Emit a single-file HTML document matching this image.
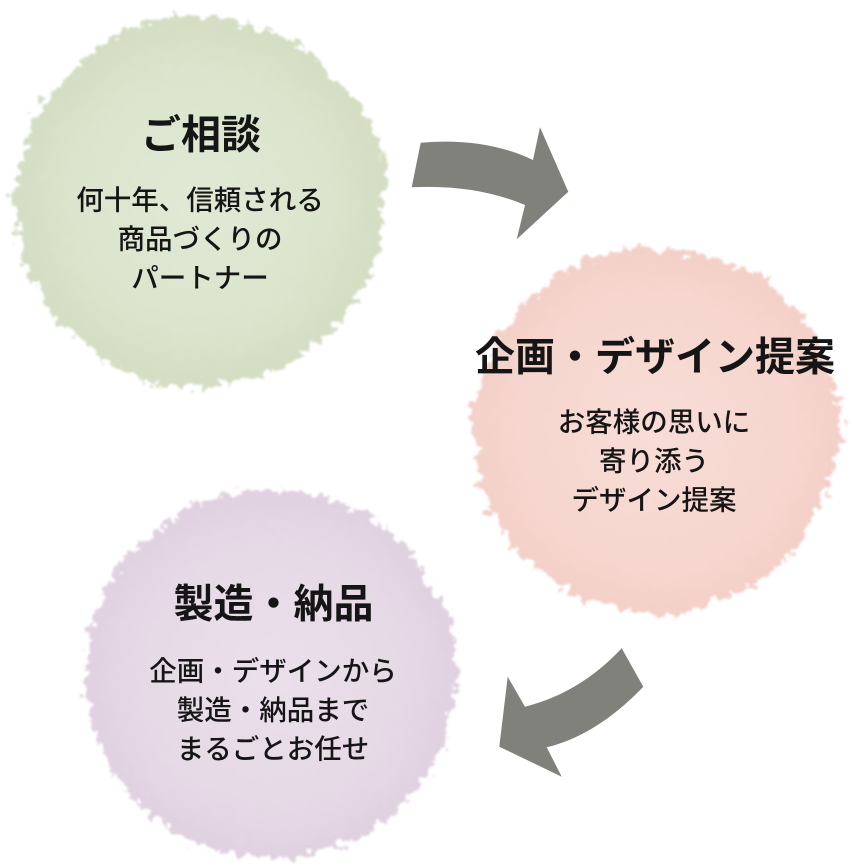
<!DOCTYPE html>
<html>
<head>
<meta charset="utf-8">
<style>
  html, body { margin: 0; padding: 0; background: #ffffff; }
  body { width: 854px; height: 868px; overflow: hidden; }
  svg { display: block; }
  .t { font-family: "Liberation Sans", "Noto Sans CJK JP", sans-serif; fill: #151515; text-anchor: middle; }
  .h { font-size: 40px; font-weight: 700; }
  .b { font-size: 27.5px; font-weight: 500; }
</style>
</head>
<body>
<svg width="854" height="868" viewBox="0 0 854 868" xmlns="http://www.w3.org/2000/svg">
  <defs>
    <filter id="fz" x="-15%" y="-15%" width="130%" height="130%">
      <feTurbulence type="fractalNoise" baseFrequency="0.02" numOctaves="2" seed="5" result="n1"/>
      <feDisplacementMap in="SourceGraphic" in2="n1" scale="14" xChannelSelector="R" yChannelSelector="G" result="d1"/>
      <feTurbulence type="fractalNoise" baseFrequency="0.11" numOctaves="3" seed="3" result="n2"/>
      <feDisplacementMap in="d1" in2="n2" scale="22" xChannelSelector="R" yChannelSelector="G" result="d2"/>
      <feGaussianBlur in="d2" stdDeviation="1"/>
    </filter>
    <radialGradient id="gG" cx="50%" cy="50%" r="50%">
      <stop offset="0%" stop-color="#e1e9d5"/>
      <stop offset="70%" stop-color="#dbe4cc"/>
      <stop offset="100%" stop-color="#d4dec3"/>
    </radialGradient>
    <radialGradient id="gP" cx="50%" cy="50%" r="50%">
      <stop offset="0%" stop-color="#f8dcd6"/>
      <stop offset="70%" stop-color="#f6d7cf"/>
      <stop offset="100%" stop-color="#f3d0c8"/>
    </radialGradient>
    <radialGradient id="gV" cx="50%" cy="50%" r="50%">
      <stop offset="0%" stop-color="#ebe0eb"/>
      <stop offset="70%" stop-color="#e6d9e6"/>
      <stop offset="100%" stop-color="#e0d1e0"/>
    </radialGradient>
  </defs>

  <!-- blobs -->
  <circle cx="200" cy="201" r="185" fill="url(#gG)" filter="url(#fz)"/>
  <circle cx="656" cy="431" r="183" fill="url(#gP)" filter="url(#fz)"/>
  <circle cx="271" cy="675" r="185" fill="url(#gV)" filter="url(#fz)"/>

  <!-- arrow 1 -->
  <path d="M420.7,142.7 Q485,137 533,160 L540,127.3 L568.3,191.7 L516.7,239.3 L525,205 Q475,184 411.7,187.3 Z" fill="#80817b"/>
  <!-- arrow 2 -->
  <path d="M621.7,648.3 Q580,693 525,706.7 L507.7,676.7 L499.3,746.7 L561.7,776.7 L546.7,747.3 Q597,735 643.3,686.7 Z" fill="#80817b"/>

  <!-- green text -->
  <text class="t h" x="201" y="148.5">ご相談</text>
  <text class="t b" x="200" y="209.5">何十年、信頼される</text>
  <text class="t b" x="200" y="248.5">商品づくりの</text>
  <text class="t b" x="200" y="287.5">パートナー</text>

  <!-- pink text -->
  <text class="t h" x="655" y="370.5">企画・デザイン提案</text>
  <text class="t b" x="654" y="431.5">お客様の思いに</text>
  <text class="t b" x="654" y="470.5">寄り添う</text>
  <text class="t b" x="654" y="509.5">デザイン提案</text>

  <!-- purple text -->
  <text class="t h" x="273.5" y="617.5">製造・納品</text>
  <text class="t b" x="273" y="680.5">企画・デザインから</text>
  <text class="t b" x="273" y="719.5">製造・納品まで</text>
  <text class="t b" x="273" y="758.5">まるごとお任せ</text>
</svg>
</body>
</html>
